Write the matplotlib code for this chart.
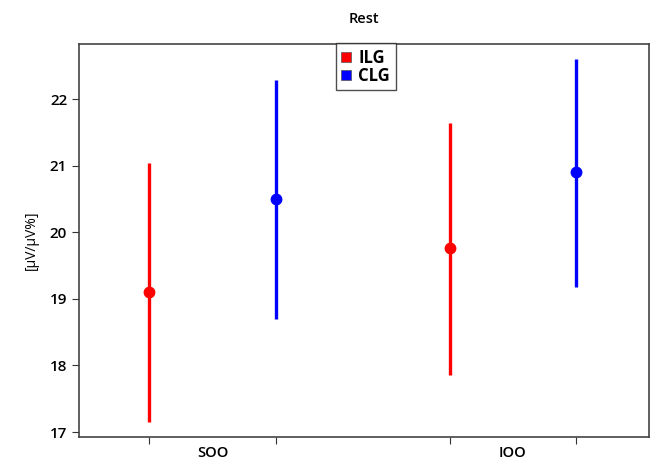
import matplotlib.pyplot as plt
from matplotlib.lines import Line2D
import numpy as np

plt.rcParams['font.family'] = ['Open Sans', 'DejaVu Sans']
plt.rcParams['font.weight'] = 'semibold'

groups = ['SOO', 'IOO']
series = ['ILG', 'CLG']
colors = ['#ff0000', '#0000ff']
means = [[19.10, 19.76], [20.50, 20.90]]
lows = [[17.15, 17.85], [18.70, 19.18]]
highs = [[21.04, 21.65], [22.29, 22.61]]
positions = [[1.0, 3.37], [2.0, 4.36]]

fig = plt.figure(figsize=(6.51, 4.61), dpi=100)
ax = fig.add_axes([79 / 651, 1 - 437 / 461, (649 - 79) / 651, (437 - 44) / 461])

for s in range(len(series)):
    x = np.array(positions[s])
    m = np.array(means[s])
    err = [m - np.array(lows[s]), np.array(highs[s]) - m]
    ax.errorbar(x, m, yerr=err, fmt='o', color=colors[s], ms=7.5,
                elinewidth=2.4, capsize=0)

ax.set_xlim(0.449, 4.937)
ax.set_ylim(16.925, 22.83)
ax.set_xticks([p for pair in zip(*positions) for p in pair])
ax.set_xticklabels([])
for g, name in enumerate(groups):
    mid = (positions[0][g] + positions[1][g]) / 2
    ax.text(mid, -0.041, name, transform=ax.get_xaxis_transform(),
            ha='center', va='center', fontsize=10.5)
ax.set_yticks([17, 18, 19, 20, 21, 22])
ax.tick_params(labelsize=11, length=5, color='#333333')
ax.set_ylabel('[µV/µV%]', fontsize=10, labelpad=8)
for sp in ax.spines.values():
    sp.set_color('#444444')
    sp.set_linewidth(1.2)

ax.set_title('Rest', fontsize=10.5, pad=15, fontweight='semibold')

handles = [Line2D([], [], marker='s', ls='', color=c, mec='#555555', mew=0.5, ms=6.5)
           for c in colors]
ax.legend(handles, series, loc='upper center', bbox_to_anchor=(0.5035, 1.003),
          frameon=True, fancybox=False, edgecolor='#222222',
          handlelength=0.5, handletextpad=0.45, borderpad=0.35, labelspacing=0.0,
          borderaxespad=0, prop={'weight': 'bold', 'size': 12})
ax.get_legend().get_frame().set_linewidth(1.0)

fig.savefig('out.png', dpi=100)
